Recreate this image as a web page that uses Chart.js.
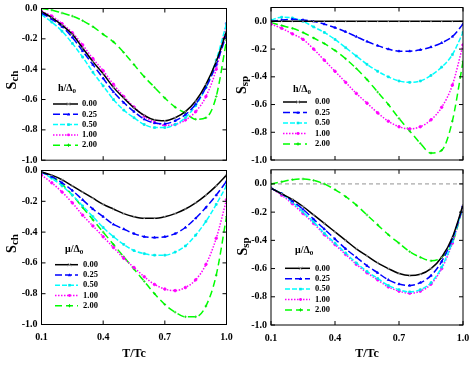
<!DOCTYPE html>
<html>
<head>
<meta charset="utf-8">
<script src="https://cdn.jsdelivr.net/npm/chart.js@4.4.0/dist/chart.umd.min.js"></script>
<style>
body { margin: 0; background: #fff; }
#wrap { position: relative; width: 469px; height: 382px; }
.panel { position: absolute; }
</style>
</head>
<body>
<div id="wrap">
  <div class="panel" style="left:0;top:0;width:235px;height:165px"><canvas id="tl"></canvas></div>
  <div class="panel" style="left:235px;top:0;width:234px;height:165px"><canvas id="tr"></canvas></div>
  <div class="panel" style="left:0;top:165px;width:235px;height:217px"><canvas id="bl"></canvas></div>
  <div class="panel" style="left:235px;top:165px;width:234px;height:217px"><canvas id="br"></canvas></div>
</div>
<script>
// T/Tc sample points
const temps = [0.1, 0.15, 0.2, 0.25, 0.3, 0.35, 0.4, 0.45, 0.5, 0.55, 0.6, 0.65, 0.7, 0.75, 0.8, 0.85, 0.9, 0.95, 1.0]
const seriesLabels = ['0.00', '0.25', '0.50', '1.00', '2.00']
const xTicks = [0.1, 0.4, 0.7, 1.0]
const yTicks = [-1.0, -0.8, -0.6, -0.4, -0.2, 0.0]

// Sch vs T/Tc, varying h
const schH000 = [-0.02, -0.06, -0.11, -0.17, -0.26, -0.35, -0.43, -0.52, -0.59, -0.655, -0.705, -0.735, -0.74, -0.72, -0.68, -0.61, -0.50, -0.35, -0.15]
const schH025 = [-0.03, -0.07, -0.12, -0.19, -0.28, -0.37, -0.46, -0.55, -0.62, -0.68, -0.73, -0.755, -0.76, -0.74, -0.70, -0.63, -0.52, -0.37, -0.17]
const schH050 = [-0.04, -0.09, -0.15, -0.23, -0.32, -0.42, -0.51, -0.60, -0.67, -0.72, -0.765, -0.785, -0.785, -0.765, -0.72, -0.64, -0.52, -0.34, -0.10]
const schH100 = [-0.02, -0.05, -0.10, -0.16, -0.24, -0.33, -0.41, -0.50, -0.58, -0.65, -0.71, -0.75, -0.77, -0.765, -0.735, -0.68, -0.58, -0.40, -0.10]
const schH200 = [0.0, -0.01, -0.03, -0.05, -0.08, -0.12, -0.17, -0.22, -0.29, -0.37, -0.45, -0.52, -0.59, -0.65, -0.69, -0.73, -0.72, -0.58, -0.21]

// Ssp vs T/Tc, varying h
const sspH000 = [0, 0, 0, 0, 0, 0, 0, 0, 0, 0, 0, 0, 0, 0, 0, 0, 0, 0, 0]
const sspH025 = [0.0, 0.01, 0.015, 0.01, 0.0, -0.02, -0.045, -0.075, -0.11, -0.145, -0.175, -0.20, -0.215, -0.215, -0.205, -0.185, -0.155, -0.11, -0.02]
const sspH050 = [0.01, 0.03, 0.025, 0.0, -0.04, -0.08, -0.13, -0.19, -0.25, -0.31, -0.36, -0.40, -0.43, -0.44, -0.43, -0.39, -0.33, -0.24, -0.08]
const sspH100 = [-0.02, -0.05, -0.09, -0.13, -0.20, -0.28, -0.36, -0.44, -0.52, -0.59, -0.66, -0.72, -0.76, -0.775, -0.76, -0.71, -0.62, -0.46, -0.17]
const sspH200 = [-0.01, -0.03, -0.05, -0.08, -0.12, -0.16, -0.21, -0.27, -0.34, -0.42, -0.51, -0.60, -0.70, -0.79, -0.88, -0.95, -0.93, -0.72, -0.29]

// Sch vs T/Tc, varying mu
const schMu000 = [-0.01, -0.03, -0.06, -0.10, -0.14, -0.18, -0.22, -0.25, -0.28, -0.30, -0.31, -0.31, -0.30, -0.28, -0.25, -0.21, -0.16, -0.10, -0.03]
const schMu025 = [-0.01, -0.04, -0.08, -0.13, -0.19, -0.25, -0.30, -0.35, -0.38, -0.41, -0.43, -0.435, -0.43, -0.41, -0.37, -0.31, -0.24, -0.16, -0.07]
const schMu050 = [-0.01, -0.05, -0.10, -0.16, -0.23, -0.30, -0.37, -0.43, -0.48, -0.52, -0.54, -0.55, -0.55, -0.53, -0.49, -0.42, -0.33, -0.22, -0.10]
const schMu100 = [-0.03, -0.08, -0.14, -0.21, -0.29, -0.36, -0.43, -0.50, -0.57, -0.63, -0.69, -0.74, -0.77, -0.78, -0.76, -0.71, -0.61, -0.44, -0.19]
const schMu200 = [-0.01, -0.04, -0.09, -0.16, -0.24, -0.32, -0.40, -0.48, -0.56, -0.64, -0.72, -0.80, -0.87, -0.92, -0.95, -0.95, -0.88, -0.68, -0.30]

// Ssp vs T/Tc, varying mu
const sspMu000 = [-0.03, -0.07, -0.11, -0.16, -0.22, -0.28, -0.34, -0.40, -0.46, -0.51, -0.56, -0.60, -0.635, -0.65, -0.64, -0.60, -0.52, -0.38, -0.15]
const sspMu025 = [-0.03, -0.07, -0.12, -0.18, -0.25, -0.32, -0.39, -0.46, -0.52, -0.58, -0.63, -0.68, -0.71, -0.72, -0.70, -0.65, -0.55, -0.39, -0.16]
const sspMu050 = [-0.03, -0.07, -0.13, -0.20, -0.27, -0.35, -0.42, -0.49, -0.56, -0.62, -0.67, -0.72, -0.75, -0.765, -0.75, -0.70, -0.59, -0.41, -0.16]
const sspMu100 = [-0.03, -0.08, -0.14, -0.21, -0.28, -0.36, -0.43, -0.50, -0.57, -0.63, -0.68, -0.73, -0.76, -0.775, -0.76, -0.71, -0.60, -0.42, -0.16]
const sspMu200 = [0.0, 0.015, 0.03, 0.035, 0.025, 0.0, -0.04, -0.09, -0.15, -0.22, -0.29, -0.36, -0.42, -0.48, -0.52, -0.545, -0.52, -0.42, -0.16]

const FONT = 'Liberation Serif'

// line look for each series, same order as seriesLabels
const styles = [
    {color: '#000000', dash: [], point: 'crossRot', pointColor: '#999999'},
    {color: '#0000ff', dash: [7, 3], point: 'triangle', pointColor: '#0000ff'},
    {color: '#00ffff', dash: [5, 2], point: 'rect', pointColor: '#00e8e8'},
    {color: '#ff00ff', dash: [1.5, 1.5], point: 'circle', pointColor: '#ff00ff'},
    {color: '#00ff00', dash: [7, 4], point: 'cross', pointColor: '#00dd00'}
]

function drawMarker(ctx, st, x, y, r) {
    ctx.save()
    ctx.setLineDash([])
    ctx.strokeStyle = st.pointColor
    ctx.fillStyle = st.pointColor
    ctx.lineWidth = 1
    ctx.beginPath()
    if (st.point === 'crossRot') {
        ctx.moveTo(x - r, y - r); ctx.lineTo(x + r, y + r)
        ctx.moveTo(x - r, y + r); ctx.lineTo(x + r, y - r)
        ctx.stroke()
    } else if (st.point === 'cross') {
        ctx.moveTo(x - r, y); ctx.lineTo(x + r, y)
        ctx.moveTo(x, y - r); ctx.lineTo(x, y + r)
        ctx.stroke()
    } else if (st.point === 'triangle') {
        ctx.moveTo(x, y - r); ctx.lineTo(x + r, y + r * 0.8); ctx.lineTo(x - r, y + r * 0.8)
        ctx.closePath(); ctx.fill()
    } else if (st.point === 'rect') {
        ctx.fillRect(x - r * 0.8, y - r * 0.8, r * 1.6, r * 1.6)
    } else {
        ctx.arc(x, y, r * 0.9, 0, Math.PI * 2); ctx.fill()
    }
    ctx.restore()
}

const framePlugin = {
    id: 'frame',
    beforeDatasetsDraw(chart, args, o) {
        if (!o.zeroLine) return
        const {ctx, chartArea: a} = chart
        const py = chart.scales.y.getPixelForValue(0)
        ctx.save()
        ctx.strokeStyle = '#777'
        ctx.lineWidth = 0.8
        ctx.setLineDash([4, 3])
        ctx.beginPath()
        ctx.moveTo(a.left, py)
        ctx.lineTo(a.right, py)
        ctx.stroke()
        ctx.restore()
    },
    afterDatasetsDraw(chart, args, o) {
        const {ctx, chartArea: a} = chart
        const x = chart.scales.x, y = chart.scales.y
        ctx.save()
        // box + inward ticks
        ctx.strokeStyle = '#000'
        ctx.lineWidth = 1
        ctx.strokeRect(a.left, a.top, a.right - a.left, a.bottom - a.top)
        ctx.beginPath()
        xTicks.forEach(v => {
            const px = x.getPixelForValue(v)
            ctx.moveTo(px, a.bottom); ctx.lineTo(px, a.bottom - 4)
            ctx.moveTo(px, a.top); ctx.lineTo(px, a.top + 4)
        })
        yTicks.forEach(v => {
            const py = y.getPixelForValue(v)
            ctx.moveTo(a.left, py); ctx.lineTo(a.left + 4, py)
            ctx.moveTo(a.right, py); ctx.lineTo(a.right - 4, py)
        })
        ctx.stroke()

        // y title with subscript
        ctx.fillStyle = '#000'
        ctx.translate(o.ytx, o.yty)
        ctx.rotate(-Math.PI / 2)
        ctx.font = 'bold 14px "' + FONT + '"'
        const w1 = ctx.measureText(o.ytitle[0]).width
        ctx.font = 'bold 11px "' + FONT + '"'
        const w2 = ctx.measureText(o.ytitle[1]).width
        ctx.textBaseline = 'middle'
        ctx.textAlign = 'left'
        ctx.font = 'bold 14px "' + FONT + '"'
        ctx.fillText(o.ytitle[0], -(w1 + w2) / 2, 0)
        ctx.font = 'bold 11px "' + FONT + '"'
        ctx.fillText(o.ytitle[1], -(w1 + w2) / 2 + w1, 3)
        ctx.setTransform(1, 0, 0, 1, 0, 0)

        // legend
        const lg = o.legend
        ctx.textBaseline = 'middle'
        ctx.textAlign = 'left'
        ctx.font = 'bold 10px "' + FONT + '"'
        ctx.fillText(lg.title, lg.tx, lg.ty)
        const tw = ctx.measureText(lg.title).width
        ctx.font = 'bold 7px "' + FONT + '"'
        ctx.fillText('0', lg.tx + tw, lg.ty + 3)
        chart.data.datasets.forEach((ds, i) => {
            const st = styles[i]
            const ry = lg.y0 + i * lg.dy
            ctx.save()
            ctx.strokeStyle = st.color
            ctx.lineWidth = 1.5
            ctx.setLineDash(st.dash)
            ctx.beginPath()
            ctx.moveTo(lg.sx0, ry)
            ctx.lineTo(lg.sx1, ry)
            ctx.stroke()
            ctx.restore()
            drawMarker(ctx, st, (lg.sx0 + lg.sx1) / 2 + 3, ry, 1.6)
            ctx.fillStyle = '#000'
            ctx.font = 'bold 8.5px "' + FONT + '"'
            ctx.fillText(ds.label, lg.lx, ry)
        })
        ctx.restore()
    }
}

function makePanel(id, series, cfg) {
    const datasets = series.map((vals, i) => ({
        label: seriesLabels[i],
        data: temps.map((t, j) => ({x: t, y: vals[j]})),
        borderColor: styles[i].color,
        borderDash: styles[i].dash,
        borderWidth: 1.5,
        pointStyle: styles[i].point,
        pointRadius: 1.3,
        pointBackgroundColor: styles[i].pointColor,
        pointBorderColor: styles[i].pointColor,
        pointBorderWidth: 0.8,
        cubicInterpolationMode: 'monotone',
        fill: false
    }))
    const tickFont = {family: FONT, weight: 'bold', size: 10}
    new Chart(document.getElementById(id), {
        type: 'line',
        data: {datasets: datasets},
        options: {
            animation: false,
            responsive: true,
            maintainAspectRatio: false,
            devicePixelRatio: 1,
            layout: {padding: cfg.pad},
            plugins: {legend: {display: false}, tooltip: {enabled: false}, frame: cfg},
            scales: {
                x: {
                    type: 'linear', min: 0.1, max: 1.0,
                    display: cfg.showX,
                    afterBuildTicks: s => { s.ticks = xTicks.map(v => ({value: v})) },
                    grid: {display: false, drawTicks: false},
                    border: {display: false},
                    ticks: {font: tickFont, color: '#000', padding: 7, maxRotation: 0, autoSkip: false,
                        callback: v => v.toFixed(1)},
                    title: {display: true, text: 'T/Tc', color: '#000',
                        font: {family: FONT, weight: 'bold', size: 12}, padding: {top: 0, bottom: 21}},
                    afterFit: s => { s.height = cfg.xh; s.paddingLeft = 0; s.paddingRight = 0 }
                },
                y: {
                    type: 'linear', min: -1.0, max: cfg.ymax,
                    afterBuildTicks: s => { s.ticks = yTicks.map(v => ({value: v})) },
                    grid: {display: false, drawTicks: false},
                    border: {display: false},
                    ticks: {font: tickFont, color: '#000', padding: 4, callback: v => v.toFixed(1)},
                    afterFit: s => { s.width = cfg.yw; s.paddingTop = 0; s.paddingBottom = 0 }
                }
            }
        },
        plugins: [framePlugin]
    })
}

makePanel('tl', [schH000, schH025, schH050, schH100, schH200], {
    ymax: 0, yw: 41.5, showX: false, xh: 0,
    pad: {left: 0, right: 8.5, top: 8.5, bottom: 4.5},
    ytitle: ['S', 'ch'], ytx: 12.5, yty: 80,
    legend: {title: 'h/Δ', tx: 58, ty: 88, sx0: 53, sx1: 78, lx: 82, y0: 104, dy: 10.3}
})
makePanel('tr', [sspH000, sspH025, sspH050, sspH100, sspH200], {
    ymax: 0.1, yw: 36, showX: false, xh: 0,
    pad: {left: 0, right: 6, top: 7.5, bottom: 5},
    ytitle: ['S', 'sp'], ytx: 7.5, yty: 85,
    legend: {title: 'h/Δ', tx: 58, ty: 89, sx0: 48, sx1: 72, lx: 80, y0: 102, dy: 10.5}
})
makePanel('bl', [schMu000, schMu025, schMu050, schMu100, schMu200], {
    ymax: 0, yw: 41.5, showX: true, xh: 57.5,
    pad: {left: 0, right: 8.5, top: 5.5, bottom: 0},
    ytitle: ['S', 'ch'], ytx: 12.5, yty: 78.5,
    legend: {title: 'μ/Δ', tx: 65, ty: 84, sx0: 55, sx1: 78, lx: 83, y0: 99.7, dy: 10.25}
})
makePanel('br', [sspMu000, sspMu025, sspMu050, sspMu100, sspMu200], {
    ymax: 0.1, yw: 36, showX: true, xh: 57, zeroLine: true,
    pad: {left: 0, right: 6, top: 3.3, bottom: 0},
    ytitle: ['S', 'sp'], ytx: 8.5, yty: 81.5,
    legend: {title: 'μ/Δ', tx: 60, ty: 85, sx0: 50, sx1: 75, lx: 80, y0: 103.3, dy: 10.4}
})
</script>
</body>
</html>
